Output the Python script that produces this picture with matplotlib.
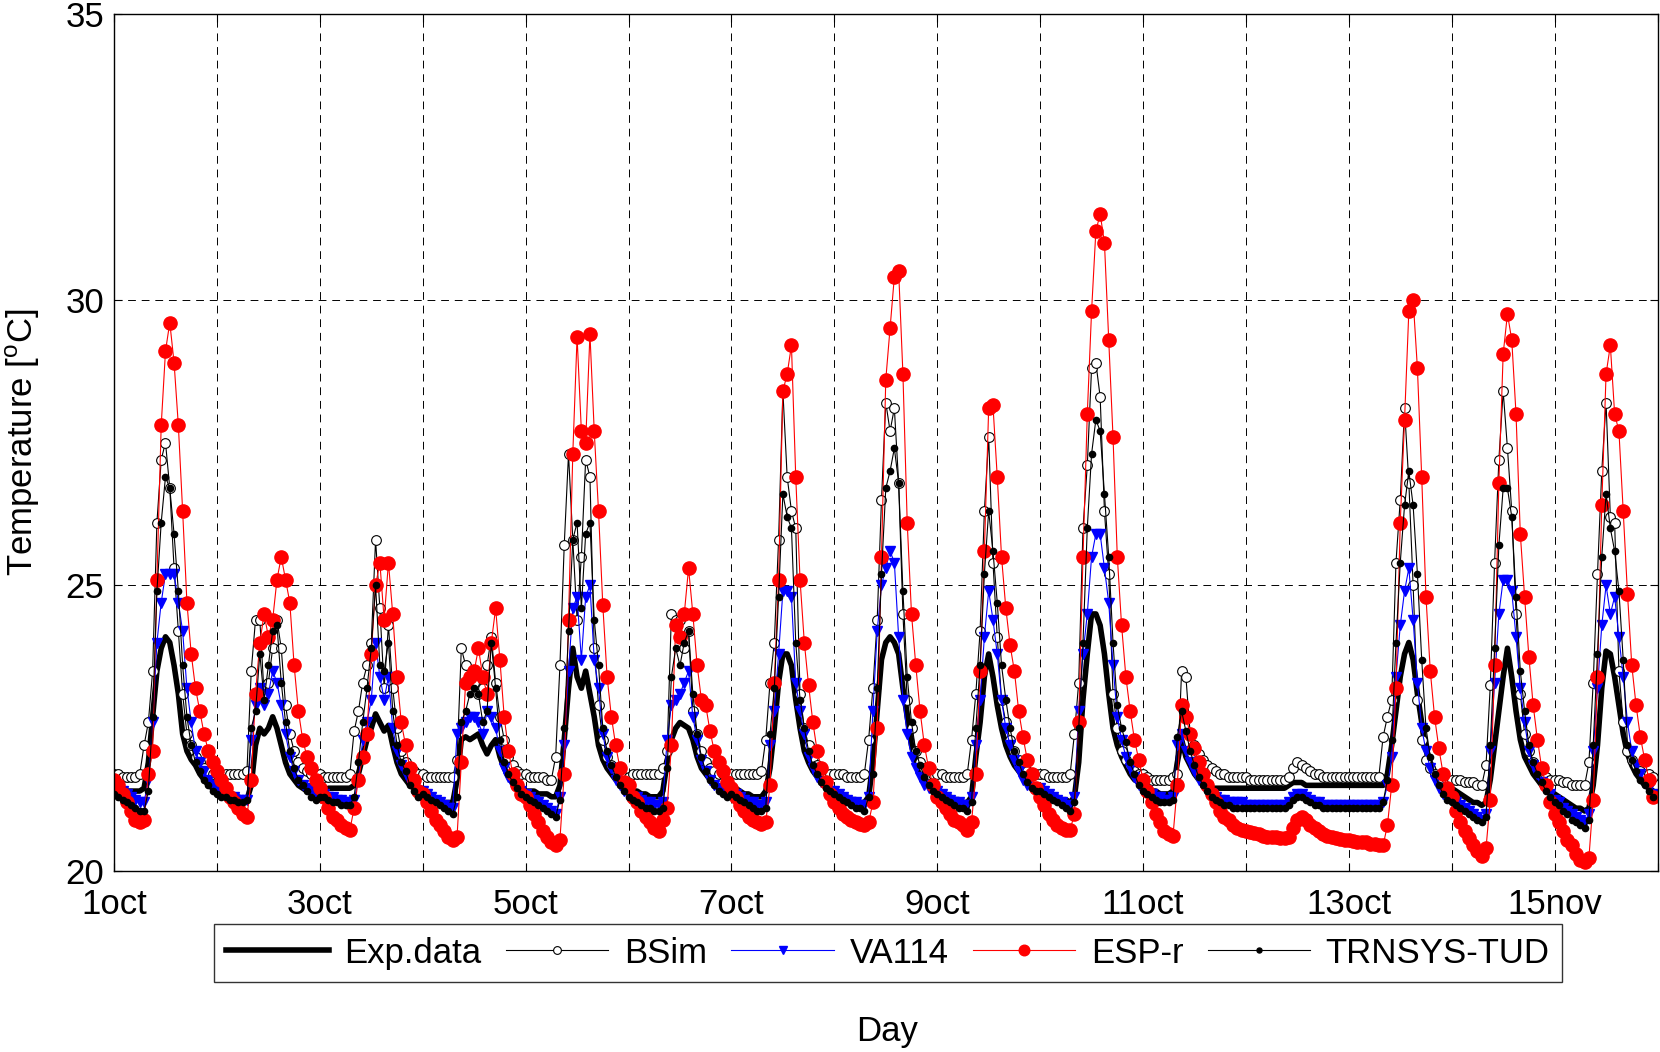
import numpy as np
import matplotlib
matplotlib.use('Agg')
import matplotlib.pyplot as plt

plt.rcParams['font.family'] = ['Liberation Sans', 'DejaVu Sans']
plt.rcParams['mathtext.fontset'] = 'custom'
plt.rcParams['mathtext.rm'] = 'Liberation Sans'

# hourly temperatures, one list of 24 values per day (1..15)
exp_data = [
    [21.5,21.45,21.45,21.4,21.4,21.4,21.4,21.45,21.9,22.7,23.5,23.9,24.1,24.0,23.6,23.1,22.4,22.1,21.95,21.85,21.7,21.6,21.5,21.45],
    [21.45,21.4,21.35,21.3,21.3,21.3,21.25,21.25,21.5,22.2,22.5,22.4,22.5,22.7,22.5,22.2,21.9,21.7,21.6,21.5,21.45,21.4,21.4,21.4],
    [21.4,21.4,21.45,21.45,21.45,21.45,21.45,21.45,21.5,21.7,22.0,22.3,22.5,22.75,22.6,22.45,22.55,22.2,21.9,21.7,21.6,21.5,21.45,21.4],
    [21.35,21.3,21.3,21.25,21.2,21.2,21.2,21.2,21.6,22.3,22.35,22.3,22.35,22.4,22.2,22.05,22.2,22.3,22.0,21.8,21.65,21.55,21.5,21.45],
    [21.4,21.4,21.4,21.35,21.35,21.35,21.3,21.3,21.5,22.3,23.2,23.9,23.4,23.2,23.5,23.1,22.7,22.2,21.95,21.8,21.7,21.6,21.55,21.5],
    [21.45,21.4,21.4,21.35,21.35,21.3,21.3,21.3,21.4,21.9,22.3,22.5,22.6,22.55,22.5,22.3,22.0,21.8,21.7,21.6,21.5,21.45,21.4,21.4],
    [21.5,21.45,21.4,21.35,21.35,21.3,21.3,21.3,21.4,21.8,22.5,23.3,23.8,23.8,23.6,23.0,22.5,22.1,21.9,21.75,21.65,21.55,21.5,21.45],
    [21.4,21.35,21.3,21.3,21.25,21.25,21.2,21.2,21.3,21.9,22.8,23.7,24.0,24.1,24.0,23.8,23.2,22.7,22.2,21.9,21.75,21.6,21.5,21.45],
    [21.4,21.35,21.3,21.3,21.25,21.25,21.2,21.2,21.3,22.0,22.6,23.4,23.8,23.4,22.9,22.5,22.2,22.0,21.85,21.75,21.65,21.55,21.5,21.45],
    [21.45,21.4,21.35,21.3,21.3,21.25,21.25,21.2,21.3,21.9,23.0,23.8,24.5,24.5,24.3,23.8,23.1,22.5,22.2,22.0,21.85,21.7,21.6,21.55],
    [21.5,21.45,21.4,21.4,21.35,21.35,21.35,21.4,21.9,22.3,22.0,21.85,21.7,21.6,21.55,21.5,21.45,21.45,21.45,21.45,21.45,21.45,21.45,21.45],
    [21.45,21.45,21.45,21.45,21.45,21.45,21.45,21.45,21.45,21.45,21.5,21.55,21.55,21.55,21.5,21.5,21.5,21.5,21.5,21.5,21.5,21.5,21.5,21.5],
    [21.5,21.5,21.5,21.5,21.5,21.5,21.5,21.5,21.5,21.7,22.2,22.8,23.4,23.8,24.0,23.7,23.1,22.6,22.15,21.9,21.75,21.6,21.5,21.45],
    [21.45,21.4,21.35,21.3,21.25,21.2,21.2,21.15,21.2,21.6,22.2,22.8,23.4,23.9,23.4,22.8,22.3,22.0,21.85,21.7,21.6,21.5,21.45,21.4],
    [21.35,21.3,21.25,21.2,21.15,21.1,21.1,21.05,21.1,21.5,22.2,23.2,23.85,23.8,23.4,22.9,22.4,22.05,21.85,21.7,21.6,21.5,21.45,21.4],
]

bsim = [
    [21.7,21.7,21.65,21.65,21.65,21.65,21.7,22.2,22.6,23.5,26.1,27.2,27.5,26.7,25.3,24.2,23.1,22.4,22.2,22.0,21.9,21.8,21.75,21.7],
    [21.7,21.7,21.7,21.7,21.7,21.7,21.7,21.75,23.5,24.4,24.4,23.1,23.3,23.9,24.4,23.9,22.9,22.4,22.1,21.9,21.8,21.75,21.7,21.7],
    [21.7,21.65,21.65,21.65,21.65,21.65,21.65,21.7,22.45,22.8,23.3,23.6,24.0,25.8,24.6,23.2,24.3,23.2,22.5,22.1,21.9,21.8,21.75,21.7],
    [21.7,21.65,21.65,21.65,21.65,21.65,21.65,21.65,21.95,23.9,23.6,23.4,23.3,23.1,23.2,23.6,24.1,23.3,22.7,22.3,22.0,21.85,21.75,21.7],
    [21.7,21.65,21.65,21.65,21.65,21.6,21.6,22.0,23.6,25.7,27.3,25.8,24.4,25.5,27.2,26.9,23.9,22.9,22.3,22.0,21.85,21.75,21.7,21.65],
    [21.65,21.7,21.7,21.7,21.7,21.7,21.7,21.7,21.8,22.1,24.5,24.4,24.4,23.9,24.2,22.8,22.4,22.1,21.9,21.8,21.75,21.7,21.7,21.7],
    [21.7,21.7,21.7,21.7,21.7,21.7,21.7,21.75,22.3,23.3,24.0,25.8,28.4,26.9,26.3,26.0,23.1,22.5,22.2,22.0,21.85,21.75,21.7,21.7],
    [21.7,21.7,21.7,21.65,21.65,21.65,21.65,21.7,22.3,23.2,24.4,26.5,28.2,27.7,28.1,26.8,24.5,23.0,22.5,22.1,21.9,21.8,21.7,21.7],
    [21.7,21.7,21.65,21.65,21.65,21.65,21.65,21.7,22.3,23.1,24.2,26.3,27.6,25.4,24.1,23.0,22.6,22.3,22.1,21.95,21.85,21.75,21.7,21.7],
    [21.7,21.7,21.65,21.65,21.65,21.65,21.65,21.7,22.4,23.3,26.0,27.1,28.8,28.9,28.3,26.3,25.2,23.1,22.5,22.1,21.95,21.85,21.75,21.7],
    [21.7,21.65,21.6,21.6,21.6,21.6,21.6,21.65,21.7,23.5,23.4,22.4,22.2,22.05,21.95,21.85,21.8,21.75,21.7,21.7,21.65,21.65,21.65,21.65],
    [21.65,21.6,21.6,21.6,21.6,21.6,21.6,21.6,21.6,21.6,21.65,21.8,21.9,21.85,21.8,21.75,21.7,21.7,21.65,21.65,21.65,21.65,21.65,21.65],
    [21.65,21.65,21.65,21.65,21.65,21.65,21.65,21.65,22.35,22.7,23.0,25.4,26.5,28.1,26.8,25.0,23.0,22.3,21.95,21.8,21.7,21.65,21.6,21.6],
    [21.6,21.6,21.6,21.55,21.55,21.55,21.5,21.5,21.85,23.25,25.4,27.2,28.4,27.4,26.3,24.5,23.1,22.4,22.1,21.9,21.8,21.7,21.65,21.6],
    [21.6,21.6,21.55,21.55,21.5,21.5,21.5,21.5,21.9,23.3,25.2,27.0,28.2,26.2,26.1,23.5,22.6,22.1,21.95,21.85,21.75,21.7,21.7,21.65],
]

va114 = [
    [21.5,21.45,21.4,21.35,21.3,21.25,21.2,21.2,21.6,22.6,24.0,24.7,25.2,25.2,25.2,24.7,24.2,23.2,22.6,22.1,21.9,21.75,21.6,21.5],
    [21.45,21.4,21.35,21.3,21.3,21.25,21.25,21.25,22.3,22.9,23.2,22.9,23.1,23.5,23.3,22.9,22.4,22.0,21.75,21.6,21.5,21.45,21.4,21.35],
    [21.4,21.35,21.3,21.3,21.25,21.25,21.2,21.2,21.25,21.6,22.3,22.6,23.0,24.0,23.4,23.0,23.4,22.5,22.1,21.85,21.7,21.55,21.45,21.4],
    [21.4,21.35,21.3,21.25,21.2,21.15,21.1,21.1,22.4,22.5,22.6,22.7,22.7,22.6,22.4,22.8,22.7,22.5,22.1,21.8,21.65,21.5,21.45,21.4],
    [21.35,21.3,21.25,21.2,21.15,21.1,21.05,21.0,21.3,22.2,23.5,24.6,24.8,23.7,24.8,25.0,23.7,23.2,22.4,22.0,21.8,21.6,21.5,21.4],
    [21.35,21.3,21.3,21.25,21.2,21.2,21.15,21.15,21.2,22.3,22.9,23.0,23.1,23.3,23.5,22.7,22.3,21.95,21.75,21.6,21.5,21.45,21.4,21.35],
    [21.4,21.35,21.3,21.25,21.2,21.2,21.15,21.15,21.2,22.2,22.8,23.8,24.9,24.9,24.8,23.3,22.8,22.4,22.0,21.8,21.65,21.55,21.45,21.4],
    [21.4,21.35,21.3,21.25,21.2,21.2,21.15,21.15,21.3,22.8,24.2,25.0,25.3,25.6,25.4,24.1,23.0,22.4,22.0,21.8,21.65,21.5,21.45,21.4],
    [21.4,21.35,21.3,21.25,21.2,21.2,21.15,21.15,21.3,22.2,23.0,24.1,24.9,24.4,23.8,23.0,22.5,22.2,21.95,21.75,21.6,21.5,21.45,21.4],
    [21.45,21.4,21.35,21.3,21.25,21.2,21.15,21.15,21.3,22.8,23.8,24.5,25.5,25.9,25.9,25.3,24.7,23.6,22.7,22.3,22.0,21.8,21.65,21.5],
    [21.45,21.4,21.35,21.3,21.3,21.25,21.25,21.3,22.2,22.4,22.1,21.9,21.75,21.6,21.5,21.4,21.35,21.3,21.25,21.25,21.2,21.2,21.2,21.2],
    [21.15,21.15,21.15,21.15,21.15,21.15,21.15,21.15,21.15,21.15,21.2,21.3,21.35,21.35,21.3,21.25,21.2,21.2,21.15,21.15,21.15,21.15,21.15,21.15],
    [21.15,21.15,21.15,21.15,21.15,21.15,21.15,21.15,21.2,21.5,22.0,23.4,24.3,24.9,25.3,24.4,23.3,22.5,22.1,21.8,21.6,21.45,21.35,21.3],
    [21.25,21.2,21.15,21.1,21.05,21.0,20.95,20.9,21.0,22.1,23.3,24.5,25.1,25.1,24.9,24.1,23.2,22.6,22.1,21.85,21.7,21.55,21.45,21.35],
    [21.25,21.2,21.1,21.05,21.0,20.95,20.9,20.85,21.0,22.1,23.2,24.3,25.0,24.5,24.8,24.1,23.4,22.6,22.1,21.85,21.7,21.55,21.45,21.35],
]

espr = [
    [21.6,21.5,21.35,21.2,21.05,20.9,20.85,20.9,21.7,22.1,25.1,27.8,29.1,29.6,28.9,27.8,26.3,24.7,23.8,23.2,22.8,22.4,22.1,21.9],
    [21.75,21.6,21.45,21.3,21.2,21.1,21.0,20.95,21.6,23.1,24.0,24.5,24.1,24.4,25.1,25.5,25.1,24.7,23.6,22.8,22.3,22.0,21.8,21.6],
    [21.45,21.3,21.1,20.95,20.9,20.8,20.75,20.72,21.1,21.6,22.0,22.4,23.8,25.0,25.4,24.4,25.4,24.5,23.4,22.6,22.2,21.8,21.6,21.4],
    [21.35,21.2,21.05,20.9,20.8,20.7,20.6,20.55,20.6,21.9,23.3,23.4,23.5,23.9,23.4,23.1,24.0,24.6,23.7,22.7,22.1,21.7,21.5,21.35],
    [21.3,21.15,21.0,20.85,20.7,20.6,20.5,20.45,20.55,21.7,24.4,27.3,29.35,27.7,27.5,29.4,27.7,26.3,24.65,23.4,22.7,22.2,21.8,21.55],
    [21.5,21.3,21.2,21.05,20.95,20.85,20.75,20.7,20.9,21.1,22.2,24.3,24.1,24.5,25.3,24.5,23.6,23.0,22.9,22.45,22.1,21.9,21.75,21.55],
    [21.45,21.3,21.15,21.05,20.95,20.9,20.85,20.83,20.85,21.5,23.3,25.1,28.4,28.7,29.2,26.9,25.1,24.0,23.25,22.6,22.1,21.8,21.55,21.35],
    [21.2,21.1,21.0,20.95,20.9,20.85,20.82,20.8,20.85,21.2,22.5,25.5,28.6,29.5,30.4,30.5,28.7,26.1,24.5,23.6,22.8,22.2,21.8,21.5],
    [21.3,21.2,21.1,21.0,20.9,20.85,20.8,20.72,20.85,21.7,23.5,25.6,28.1,28.15,26.9,25.5,24.6,23.95,23.5,22.8,22.35,21.95,21.7,21.45],
    [21.3,21.15,21.0,20.9,20.8,20.75,20.72,20.72,21.0,22.6,25.5,28.0,29.8,31.2,31.5,31.0,29.3,27.6,25.5,24.3,23.4,22.8,22.3,21.95],
    [21.6,21.4,21.2,21.0,20.85,20.7,20.65,20.62,21.5,22.9,22.7,22.4,22.15,21.9,21.7,21.5,21.35,21.2,21.05,20.95,20.9,20.8,20.75,20.72],
    [20.7,20.68,20.66,20.64,20.62,20.6,20.6,20.6,20.58,20.58,20.6,20.75,20.9,20.95,20.9,20.8,20.75,20.7,20.65,20.62,20.6,20.58,20.56,20.55],
    [20.55,20.52,20.5,20.5,20.5,20.48,20.47,20.45,20.45,20.8,21.5,23.2,26.1,27.9,29.8,30.0,28.8,26.9,24.8,23.5,22.7,22.15,21.7,21.45],
    [21.3,21.05,20.85,20.7,20.58,20.45,20.35,20.26,20.4,21.25,23.6,26.8,29.05,29.75,29.3,28.0,25.9,24.8,23.75,22.9,22.3,21.8,21.5,21.2],
    [21.0,20.85,20.7,20.55,20.45,20.3,20.2,20.16,20.23,21.25,23.4,26.4,28.7,29.2,28.0,27.7,26.3,24.85,23.6,22.9,22.35,21.95,21.6,21.3],
]

trnsys = [
    [21.35,21.3,21.25,21.2,21.15,21.1,21.05,21.05,21.4,22.7,24.9,26.1,26.9,26.7,25.9,24.9,23.6,22.7,22.2,21.9,21.75,21.6,21.5,21.4],
    [21.35,21.3,21.3,21.25,21.25,21.2,21.2,21.25,22.5,22.8,23.8,23.0,23.6,24.2,24.3,23.3,22.6,22.1,21.8,21.6,21.5,21.4,21.3,21.25],
    [21.3,21.3,21.25,21.2,21.2,21.15,21.15,21.15,21.3,21.9,22.6,23.2,23.9,25.0,23.6,23.5,24.0,22.8,22.2,21.9,21.75,21.5,21.4,21.3],
    [21.35,21.3,21.25,21.2,21.15,21.1,21.05,21.0,21.3,22.6,22.8,23.1,23.2,23.1,22.6,22.8,24.0,23.2,22.3,21.9,21.7,21.55,21.45,21.35],
    [21.3,21.25,21.2,21.15,21.1,21.05,21.0,20.95,21.25,22.5,24.2,25.8,26.1,24.6,25.9,26.1,24.4,23.6,22.5,22.1,21.85,21.65,21.5,21.4],
    [21.3,21.25,21.2,21.15,21.1,21.1,21.05,21.05,21.1,21.8,23.4,23.9,23.6,24.0,24.2,23.1,22.4,22.0,21.75,21.6,21.5,21.4,21.35,21.3],
    [21.35,21.3,21.25,21.2,21.15,21.1,21.05,21.05,21.1,22.4,23.2,24.8,26.6,26.2,26.0,24.0,23.0,22.5,22.1,21.85,21.7,21.55,21.45,21.4],
    [21.35,21.3,21.25,21.2,21.15,21.1,21.1,21.05,21.3,21.7,23.2,25.2,26.7,27.0,27.4,26.8,24.9,23.4,22.6,22.1,21.85,21.65,21.5,21.4],
    [21.35,21.3,21.25,21.2,21.15,21.1,21.1,21.05,21.2,22.5,23.6,25.2,26.3,25.6,24.7,23.6,23.0,22.5,22.1,21.9,21.7,21.55,21.45,21.4],
    [21.4,21.35,21.3,21.25,21.2,21.15,21.1,21.05,21.2,22.5,24.0,26.0,27.3,27.9,27.7,26.6,25.5,24.0,22.9,22.5,22.25,21.9,21.7,21.5],
    [21.4,21.35,21.3,21.25,21.2,21.2,21.2,21.25,22.35,22.8,22.45,22.1,21.85,21.65,21.5,21.4,21.3,21.25,21.2,21.15,21.15,21.1,21.1,21.1],
    [21.1,21.1,21.1,21.1,21.1,21.1,21.1,21.1,21.1,21.1,21.15,21.25,21.3,21.3,21.25,21.2,21.15,21.15,21.1,21.1,21.1,21.1,21.1,21.1],
    [21.1,21.1,21.1,21.1,21.1,21.1,21.1,21.1,21.2,21.6,22.3,24.0,25.4,26.4,27.0,26.4,25.2,23.7,22.5,22.0,21.7,21.5,21.35,21.25],
    [21.2,21.15,21.1,21.05,21.0,20.95,20.9,20.85,20.95,22.2,23.9,25.7,26.7,26.7,26.2,24.8,23.5,22.8,22.2,21.9,21.7,21.55,21.4,21.3],
    [21.2,21.15,21.05,21.0,20.9,20.85,20.8,20.75,20.9,22.2,23.8,25.5,26.6,26.0,25.6,24.9,23.7,22.2,21.95,21.75,21.6,21.5,21.4,21.3],
]

day_ticks = list(range(1, 17))
day_labels = ['1oct', '3oct', '5oct', '7oct', '9oct', '11oct', '13oct', '15nov']

n_hours = 24 * len(exp_data)
t = 1 + np.arange(n_hours) / 24.0

fs = 25

fig = plt.figure(figsize=(16.6, 10.52), dpi=100)
ax = fig.add_axes([0.0687, 0.172, 0.9298, 0.8147])

ax.plot(t, np.ravel(exp_data), color='black', lw=4, label='Exp.data')
ax.plot(t, np.ravel(bsim), color='black', lw=0.8, marker='o', ms=7,
        mfc='white', mec='black', mew=0.8, label='BSim')
ax.plot(t, np.ravel(va114), color='blue', lw=0.8, marker='v', ms=6.5,
        mfc='blue', mec='blue', label='VA114')
ax.plot(t, np.ravel(espr), color='red', lw=0.8, marker='o', ms=9.5,
        mfc='red', mec='red', label='ESP-r')
ax.plot(t, np.ravel(trnsys), color='black', lw=0.8, marker='o', ms=4.5,
        mfc='black', mec='black', label='TRNSYS-TUD')

ax.set_xlim(1, 16)
ax.set_ylim(20, 35)
ax.set_yticks([20, 25, 30, 35])
ax.set_xticks(day_ticks)
labels = []
for d in day_ticks:
    labels.append(day_labels[(d - 1) // 2] if d % 2 == 1 else '')
ax.set_xticklabels(labels)
ax.tick_params(direction='in', length=6, top=True, right=True, labelsize=fs)
ax.tick_params(axis='x', pad=12)
ax.tick_params(axis='y', pad=7)
ax.grid(True, color='black', lw=0.7, linestyle=(0, (8, 6)))
for s in ax.spines.values():
    s.set_linewidth(1.0)

fig.text(0.014, 0.5794, r'Temperature [$^{\mathrm{o}}$C]', rotation=90,
         ha='center', va='center', fontsize=fs)
fig.text(0.5343, 1 - 1032 / 1052, 'Day', ha='center', va='center', fontsize=fs)

leg = fig.legend(loc='center', bbox_to_anchor=(0.535, 0.094), ncol=5,
                 fontsize=fs, frameon=True, fancybox=False, edgecolor='black',
                 handlelength=2.95, columnspacing=0.7, handletextpad=0.45,
                 borderpad=0.35, markerscale=0.8)
leg.get_frame().set_linewidth(1.0)

fig.savefig('out.png', dpi=100)
